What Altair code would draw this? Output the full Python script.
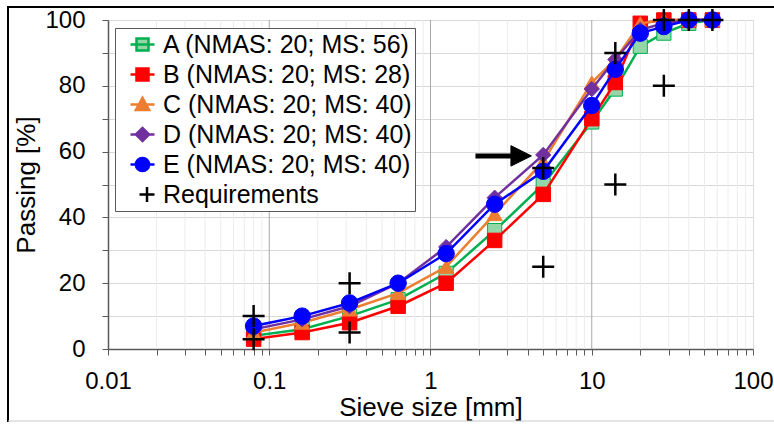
import altair as alt
import pandas as pd

FONT = "Liberation Sans"

# ---------------- data ----------------
sieve_sizes = [0.08, 0.16, 0.315, 0.63, 1.25, 2.5, 5, 10, 14, 20, 28, 40, 56]
series_names = [
    "A (NMAS: 20; MS: 56)",
    "B (NMAS: 20; MS: 28)",
    "C (NMAS: 20; MS: 40)",
    "D (NMAS: 20; MS: 40)",
    "E (NMAS: 20; MS: 40)",
]
passing_A = [4, 6, 10, 15, 23, 36, 50, 69, 79, 92, 96, 99, 100]
passing_B = [3, 5, 8, 13, 20, 33, 47, 70, 81, 99, 100, 100, 100]
passing_C = [5, 8, 12, 17, 25, 41, 57, 81, 88, 99, 100, 100, 100]
passing_D = [6, 9, 13, 20, 31, 46, 59, 79, 88, 97, 99, 100, 100]
passing_E = [7, 10, 14, 20, 29, 44, 54, 74, 85, 96, 98, 100, 100]

req_name = "Requirements"
req_sizes = [0.08, 0.08, 0.315, 0.315, 5, 5, 14, 14, 28, 28, 40, 56]
req_passing = [3, 10, 5, 20, 25, 55, 50, 90, 80, 100, 100, 100]

# annotation arrow (data units)
arrow_shaft_x = [1.9, 3.3]
arrow_head_x = [3.65]
arrow_y = [58.7]

# axis ticks
x_major = [0.01, 0.1, 1, 10, 100]
x_minor = [0.02, 0.03, 0.04, 0.05, 0.06, 0.07, 0.08, 0.09,
           0.2, 0.3, 0.4, 0.5, 0.6, 0.7, 0.8, 0.9,
           2, 3, 4, 5, 6, 7, 8, 9,
           20, 30, 40, 50, 60, 70, 80, 90]
y_ticks = [0, 10, 20, 30, 40, 50, 60, 70, 80, 90, 100]

# ---------------- styles ----------------
line_colors = ["#00b050", "#ff0000", "#ed7d31", "#7030a0", "#0000ff"]
fill_colors = ["#93d7a6", "#ff0000", "#ed7d31", "#7030a0", "#0000ff"]
shapes = ["square", "square", "triangle-up", "diamond", "circle"]
sizes = [200, 210, 230, 230, 270]
PLUS = "M-1,0H1M0,-1V1"

legend_paths = [
    "M-1,0H1M-0.5,-0.5H0.5V0.5H-0.5Z",
    "M-1,0H1M-0.5,-0.5H0.5V0.5H-0.5Z",
    "M-1,0H1M-0.55,0.45L0.55,0.45L0,-0.55Z",
    "M-1,0H1M-0.55,0L0,-0.55L0.55,0L0,0.55Z",
    "M-1,0H1M-0.55,0A0.55,0.55,0,1,0,0.55,0A0.55,0.55,0,1,0,-0.55,0Z",
    "M-0.25,0H1M0.375,-0.625V0.625",
]

xscale = alt.Scale(type="log", domain=[0.01, 100], nice=False)
yscale = alt.Scale(domain=[0, 100], nice=False)

x_axis = alt.Axis(
    values=x_major + x_minor,
    labelExpr="indexof([0.01, 0.1, 1, 10, 100], datum.value) >= 0 ? datum.label : ''",
    format="~g",
    grid=False,
    tickSize=6, tickColor="#595959", tickWidth=1,
    domainColor="#595959", domainWidth=1.5,
    labelFont=FONT, labelFontSize=24, labelColor="black",
    labelPadding=14, labelOverlap=False, labelFlush=False,
    title="Sieve size [mm]", titleFont=FONT, titleFontSize=26,
    titleFontWeight="normal", titleColor="black", titlePadding=1,
)
y_axis = alt.Axis(
    values=y_ticks,
    labelExpr="datum.value % 20 == 0 ? datum.label : ''",
    grid=True, gridColor="#d9d9d9", gridWidth=1,
    tickSize=6, tickColor="#595959", tickWidth=1,
    domainColor="#595959", domainWidth=1.5,
    labelFont=FONT, labelFontSize=24, labelColor="black",
    labelPadding=17, labelOverlap=False, labelFlush=False,
    title="Passing [%]", titleFont=FONT, titleFontSize=26,
    titleFontWeight="normal", titleColor="black", titlePadding=5,
)

X = lambda f: alt.X(f, type="quantitative", scale=xscale, axis=x_axis)
Y = lambda f: alt.Y(f, type="quantitative", scale=yscale, axis=y_axis)

layers = []

# vertical gridlines
minor_df = pd.DataFrame({"v": x_minor})
major_df = pd.DataFrame({"v": x_major[1:-1]})
layers.append(alt.Chart(minor_df).mark_rule(color="#ececec", strokeWidth=1).encode(x=X("v")))
layers.append(alt.Chart(major_df).mark_rule(color="#a8a8a8", strokeWidth=1).encode(x=X("v")))

# series
all_passing = [passing_A, passing_B, passing_C, passing_D, passing_E]
for name, vals, lc, fc, shp, sz in zip(series_names, all_passing, line_colors, fill_colors, shapes, sizes):
    df = pd.DataFrame({"size": sieve_sizes, "passing": vals, "series": name})
    base = alt.Chart(df)
    layers.append(base.mark_line(color=lc, strokeWidth=2.5).encode(x=X("size"), y=Y("passing")))
    layers.append(
        base.mark_point(shape=shp, filled=True, fill=fc, stroke=lc, strokeWidth=1,
                        size=sz, opacity=1).encode(x=X("size"), y=Y("passing"))
    )

# requirements
req_df = pd.DataFrame({"size": req_sizes, "passing": req_passing})
layers.append(
    alt.Chart(req_df).mark_point(shape=PLUS, filled=False, stroke="black",
                                 strokeWidth=2.5, size=484, opacity=1)
    .encode(x=X("size"), y=Y("passing"))
)

# arrow
shaft_df = pd.DataFrame({"x1": [arrow_shaft_x[0]], "x2": [arrow_shaft_x[1]], "y": arrow_y})
layers.append(
    alt.Chart(shaft_df).mark_rule(color="black", strokeWidth=5)
    .encode(x=X("x1"), x2="x2", y=Y("y"))
)
head_df = pd.DataFrame({"x": arrow_head_x, "y": arrow_y})
layers.append(
    alt.Chart(head_df).mark_point(shape="M-1,-1L1,0L-1,1Z", filled=True, fill="black",
                                  stroke="black", strokeWidth=1, size=420, opacity=1)
    .encode(x=X("x"), y=Y("y"))
)

# legend layer (no visible marks: null positions)
legend_domain = series_names + [req_name]
legend_df = pd.DataFrame({"series": legend_domain, "size": [None] * 6, "passing": [None] * 6})
leg = alt.Legend(
    title=None, orient="none", legendX=7, legendY=8,
    labelFont=FONT, labelFontSize=25, labelColor="black", labelLimit=400,
    symbolSize=576, symbolStrokeWidth=2.5, labelOffset=7, symbolOffset=11,
    strokeColor="#595959", fillColor="white", padding=3, rowPadding=3,
)
layers.append(
    alt.Chart(legend_df).mark_point(filled=True, opacity=1).encode(
        x=X("size"), y=Y("passing"),
        shape=alt.Shape("series:N", scale=alt.Scale(domain=legend_domain, range=legend_paths), legend=leg),
        fill=alt.Fill("series:N", scale=alt.Scale(domain=legend_domain, range=fill_colors + ["black"]), legend=leg),
        stroke=alt.Stroke("series:N", scale=alt.Scale(domain=legend_domain, range=line_colors + ["black"]), legend=leg),
    )
)

# outer frame
layers.append(alt.Chart(pd.DataFrame({"a": [0]})).mark_rule(color="black", strokeWidth=2).encode(
    x=alt.value(-100), x2=alt.value(670), y=alt.value(-13)))
layers.append(alt.Chart(pd.DataFrame({"a": [0]})).mark_rule(color="black", strokeWidth=2).encode(
    x=alt.value(-100), y=alt.value(-14), y2=alt.value(402)))
layers.append(alt.Chart(pd.DataFrame({"a": [0]})).mark_rule(color="#c8c8c8", strokeWidth=1).encode(
    x=alt.value(-100), x2=alt.value(670), y=alt.value(401)))

chart = alt.layer(*layers).properties(
    width=645, height=329,
    autosize=alt.AutoSizeParams(type="none"),
    padding={"left": 108, "top": 20, "right": 21, "bottom": 76},
).configure_view(stroke="#8c8c8c", strokeWidth=1).configure(background="white")

chart.save("out.html", embed_options={"renderer": "svg", "actions": False})
